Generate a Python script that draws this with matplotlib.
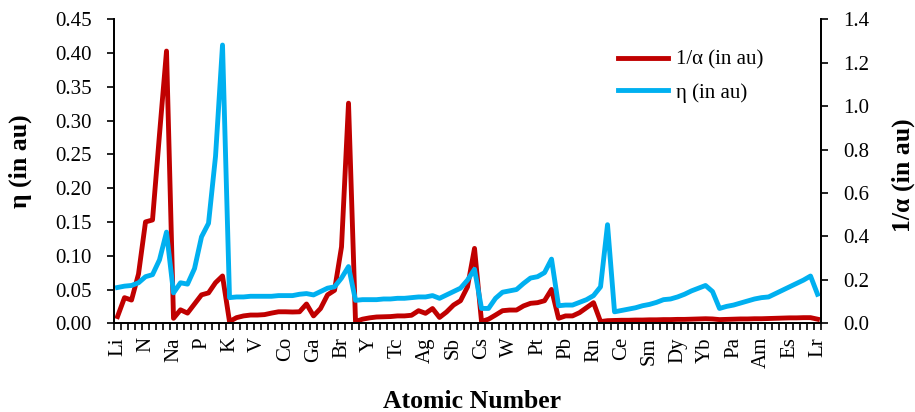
import matplotlib
matplotlib.use("Agg")
import matplotlib.pyplot as plt
import numpy as np

# element order as used on the x axis (101 entries)
elements = (
    "Li Be B C N O F Ne Na Mg Al Si P S Cl Ar K Ca Sc Ti V Cr Mn Fe Co Ni Cu Zn "
    "Ga Ge As Se Br Kr Rb Sr Y Zr Nb Mo Tc Ru Rh Pd Ag Cd In Sn Sb Te I Xe Cs Ba "
    "Hf Ta W Re Os Ir Pt Au Hg Tl Pb Bi Po At Rn Fr Ra La "
    "Ce Pr Nd Pm Sm Eu Gd Tb Dy Ho Er Tm Yb Lu Ac Th "
    "Pa U Np Pu Am Cm Bk Cf Es Fm Md No Lr"
).split()

# 1/alpha (right axis, au)
inv_alpha = [
    0.031, 0.118, 0.107, 0.227, 0.467, 0.476, 0.871, 1.254, 0.023, 0.062,
    0.047, 0.089, 0.131, 0.140, 0.187, 0.218, 0.008, 0.026, 0.034, 0.038,
    0.038, 0.040, 0.047, 0.053, 0.053, 0.052, 0.053, 0.089, 0.034, 0.068,
    0.131, 0.152, 0.352, 1.014, 0.008, 0.019, 0.025, 0.029, 0.030, 0.031,
    0.034, 0.034, 0.037, 0.058, 0.046, 0.068, 0.027, 0.052, 0.084, 0.104,
    0.168, 0.345, 0.008, 0.019, 0.038, 0.058, 0.061, 0.061, 0.080, 0.092,
    0.095, 0.104, 0.156, 0.023, 0.034, 0.034, 0.049, 0.072, 0.095, 0.008,
    0.012, 0.013, 0.014, 0.014, 0.015, 0.015, 0.016, 0.016, 0.017, 0.017,
    0.018, 0.018, 0.019, 0.020, 0.021, 0.020, 0.017, 0.018, 0.019, 0.020,
    0.020, 0.021, 0.021, 0.022, 0.023, 0.024, 0.025, 0.025, 0.026, 0.026,
    0.019,
]

# eta (left axis, au)
eta = [
    0.053, 0.055, 0.056, 0.060, 0.069, 0.072, 0.094, 0.135, 0.045, 0.060,
    0.058, 0.081, 0.128, 0.148, 0.247, 0.412, 0.038, 0.039, 0.039, 0.040,
    0.040, 0.040, 0.040, 0.041, 0.041, 0.041, 0.043, 0.044, 0.042, 0.047,
    0.052, 0.054, 0.067, 0.084, 0.034, 0.035, 0.035, 0.035, 0.036, 0.036,
    0.037, 0.037, 0.038, 0.039, 0.039, 0.041, 0.037, 0.042, 0.047, 0.052,
    0.064, 0.080, 0.022, 0.022, 0.037, 0.046, 0.048, 0.050, 0.059, 0.067,
    0.069, 0.075, 0.095, 0.026, 0.027, 0.027, 0.031, 0.035, 0.041, 0.054,
    0.146, 0.017, 0.019, 0.021, 0.023, 0.026, 0.028, 0.031, 0.035, 0.036,
    0.039, 0.043, 0.048, 0.052, 0.056, 0.047, 0.022, 0.025, 0.027, 0.030,
    0.033, 0.036, 0.038, 0.039, 0.044, 0.049, 0.054, 0.059, 0.064, 0.070,
    0.043,
]

RED = "#C00000"
CYAN = "#00B0F0"

plt.rcParams["font.family"] = ["Liberation Serif", "DejaVu Serif"]

fig, ax = plt.subplots(figsize=(9.15, 4.12), dpi=100)
fig.subplots_adjust(left=0.1246, right=0.8973, bottom=0.2153, top=0.953)
ax2 = ax.twinx()

x = np.arange(len(elements))
l1, = ax2.plot(x, inv_alpha, color=RED, lw=3.5, solid_joinstyle="round",
               label="1/α (in au)")
l2, = ax.plot(x, eta, color=CYAN, lw=3.5, solid_joinstyle="round",
              label="η (in au)")
ax.set_zorder(ax2.get_zorder() + 1)
ax.patch.set_visible(False)

ax.set_xlim(-0.5, len(elements) - 0.5)
ax.set_ylim(0, 0.45)
ax.set_yticks(np.arange(0, 0.451, 0.05))
ax.set_yticklabels([f"{v:.2f}" for v in np.arange(0, 0.451, 0.05)])
ax2.set_ylim(0, 1.4)
ax2.set_yticks(np.arange(0, 1.41, 0.2))
ax2.set_yticklabels([f"{v:.1f}" for v in np.arange(0, 1.41, 0.2)])

# category ticks between points, labels on every 4th element
ax.set_xticks(x[::4])
ax.set_xticklabels(elements[::4], rotation=90)
ax.set_xticks(np.arange(-0.5, len(elements)), minor=True)
ax.tick_params(axis="x", which="major", length=0, pad=10, labelsize=15)
ax.tick_params(axis="x", which="minor", length=5, width=1.2)

for a in (ax, ax2):
    a.tick_params(axis="y", labelsize=15, length=5, width=1.2, pad=11)
    for s in a.spines.values():
        s.set_linewidth(1.3)
    a.spines["top"].set_visible(False)

fig.text(20 / 915, 1 - 161 / 412, "η (in au)", rotation=90, ha="center",
         va="center", fontsize=18.5, fontweight="bold")
fig.text(903 / 915, 1 - 175 / 412, "1/α (in au)", rotation=90, ha="center",
         va="center", fontsize=18.5, fontweight="bold")
fig.text(472 / 915, 1 - 401 / 412, "Atomic Number", ha="center",
         va="center", fontsize=18.5, fontweight="bold")

ax.legend(handles=[l1, l2], loc="upper left", bbox_to_anchor=(0.687, 0.96),
          frameon=False, fontsize=15, handlelength=2.4, handletextpad=0.35,
          labelspacing=0.62)

fig.savefig("out.png", dpi=100)
